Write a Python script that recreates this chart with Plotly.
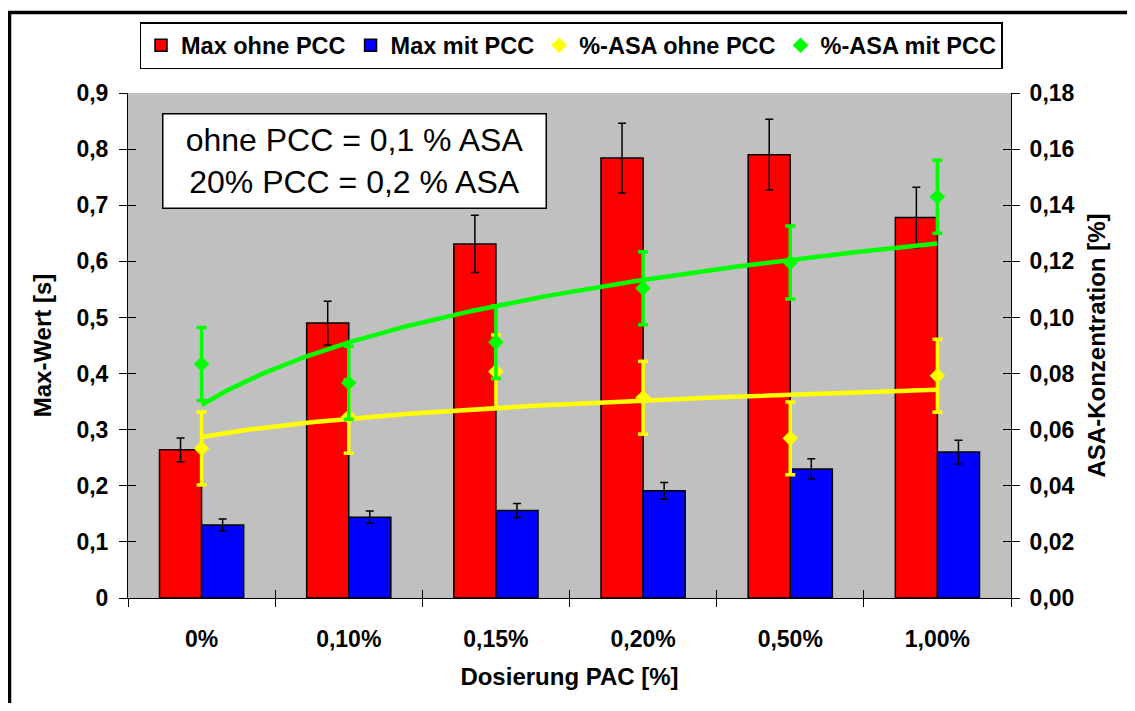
import numpy as np
import plotly.graph_objects as go

# ---------------- data ----------------
categories = ["0%", "0,10%", "0,15%", "0,20%", "0,50%", "1,00%"]

max_ohne = [0.264, 0.490, 0.631, 0.784, 0.790, 0.678]
max_ohne_err = [0.021, 0.039, 0.051, 0.062, 0.063, 0.054]
max_mit = [0.130, 0.144, 0.156, 0.191, 0.230, 0.260]
max_mit_err = [0.011, 0.011, 0.0125, 0.015, 0.018, 0.021]

asa_ohne = [0.0533, 0.0646, 0.0807, 0.0714, 0.0569, 0.0792]
asa_ohne_err = [0.013, 0.013, 0.013, 0.013, 0.013, 0.013]
asa_mit = [0.0834, 0.0767, 0.0912, 0.1104, 0.1196, 0.1430]
asa_mit_err = [0.013, 0.013, 0.013, 0.013, 0.013, 0.013]

y_left_ticks = [0, 0.1, 0.2, 0.3, 0.4, 0.5, 0.6, 0.7, 0.8, 0.9]
y_left_text = ["0", "0,1", "0,2", "0,3", "0,4", "0,5", "0,6", "0,7", "0,8", "0,9"]
y_right_ticks = [0, 0.02, 0.04, 0.06, 0.08, 0.10, 0.12, 0.14, 0.16, 0.18]
y_right_text = ["0,00", "0,02", "0,04", "0,06", "0,08", "0,10", "0,12", "0,14", "0,16", "0,18"]

note_text = "ohne PCC = 0,1 % ASA<br>20% PCC = 0,2 % ASA"

# ---------------- figure ----------------
# page body has an 8px default margin; the figure is sized so it fits the window
OFF = 8
W, H = 1135 - 2 * OFF, 711 - 2 * OFF
L, T = 128 - OFF, 93 - OFF
R = W - (1011 - OFF)
B = H - (598 - OFF)
PW, PH = W - L - R, H - T - B


def px_x(px):
    """window pixel -> paper x"""
    return (px - OFF - L) / PW


def px_y(py):
    """window pixel -> paper y"""
    return (H - B - (py - OFF)) / PH


idx = np.arange(len(categories))
FONT = "Liberation Sans, Arial, sans-serif"
bold = dict(family=FONT, size=23, color="black", weight="bold")
title_font = dict(family=FONT, size=24, color="black", weight="bold")

fig = go.Figure()

fig.add_trace(go.Bar(
    x=idx, y=max_ohne, name="Max ohne PCC", offsetgroup="a",
    marker=dict(color="#FF0000", line=dict(color="black", width=1.5)),
    error_y=dict(type="data", array=max_ohne_err, color="black", thickness=1.5, width=4),
))
fig.add_trace(go.Bar(
    x=idx, y=max_mit, name="Max mit PCC", offsetgroup="b",
    marker=dict(color="#0000FF", line=dict(color="black", width=1.5)),
    error_y=dict(type="data", array=max_mit_err, color="black", thickness=1.5, width=4),
))


# logarithmic trend lines (Excel-style fit y = a*ln(x) + b, x = 1..n)
def log_trend(vals):
    xs = idx + 1.0
    a, b = np.polyfit(np.log(xs), np.asarray(vals), 1)
    xx = np.linspace(1, len(vals), 200)
    return xx - 1, a * np.log(xx) + b


tx, ty = log_trend(asa_ohne)
fig.add_trace(go.Scatter(x=tx, y=ty, yaxis="y2", mode="lines",
                         line=dict(color="#FFFF00", width=4.5), showlegend=False,
                         hoverinfo="skip"))
tx, ty = log_trend(asa_mit)
fig.add_trace(go.Scatter(x=tx, y=ty, yaxis="y2", mode="lines",
                         line=dict(color="#00FF00", width=4.5), showlegend=False,
                         hoverinfo="skip"))

fig.add_trace(go.Scatter(
    x=idx, y=asa_ohne, yaxis="y2", mode="markers", name="%-ASA ohne PCC",
    marker=dict(symbol="diamond", size=12, color="#FFFF00"),
    error_y=dict(type="data", array=asa_ohne_err, color="#FFFF00", thickness=3.5, width=5),
))
fig.add_trace(go.Scatter(
    x=idx, y=asa_mit, yaxis="y2", mode="markers", name="%-ASA mit PCC",
    marker=dict(symbol="diamond", size=12, color="#00FF00"),
    error_y=dict(type="data", array=asa_mit_err, color="#00FF00", thickness=3.5, width=5),
))

# empty helper traces so the tick-only overlay axes get drawn
for xa, ya in (("x2", "y"), ("x", "y3"), ("x", "y4")):
    fig.add_trace(go.Scatter(x=[None], y=[None], xaxis=xa, yaxis=ya, mode="markers",
                             showlegend=False, hoverinfo="skip"))

boundaries = list(np.arange(len(categories) + 1) - 0.5)
x_range = [-0.5, len(categories) - 0.5]

fig.update_layout(
    width=W, height=H,
    margin=dict(l=L, r=R, t=T, b=B, autoexpand=False),
    paper_bgcolor="white",
    plot_bgcolor="#C0C0C0",
    barmode="group",
    bargap=0.428,
    bargroupgap=0,
    font=dict(family=FONT, color="black"),
    xaxis=dict(
        range=x_range,
        tickvals=list(idx), ticktext=categories, ticks="",
        tickfont=bold, ticklabelstandoff=20, automargin=False,
        showgrid=False, zeroline=False,
        showline=True, linecolor="black", linewidth=1,
        minor=dict(tickmode="array", tickvals=boundaries, ticks="outside",
                   ticklen=8, tickcolor="black", tickwidth=1, showgrid=False),
        title=dict(text="Dosierung PAC [%]", font=title_font, standoff=17),
    ),
    # inner halves of the crossing tick marks
    xaxis2=dict(
        range=x_range, overlaying="x", anchor="y", side="bottom",
        tickvals=boundaries, ticks="inside", ticklen=8, tickcolor="black",
        showticklabels=False, showgrid=False, zeroline=False, showline=False,
        automargin=False, fixedrange=True,
    ),
    yaxis=dict(
        range=[0, 0.9], tickvals=y_left_ticks, ticktext=y_left_text,
        ticks="outside", ticklen=8, tickcolor="black", automargin=False,
        tickfont=bold, ticklabelstandoff=6,
        showgrid=False, zeroline=False,
        showline=True, linecolor="black", linewidth=1,
        title=dict(text="Max-Wert [s]", font=title_font, standoff=18),
    ),
    yaxis2=dict(
        range=[0, 0.18], tickvals=y_right_ticks, ticktext=y_right_text,
        overlaying="y", side="right", anchor="x", automargin=False,
        ticks="outside", ticklen=8, tickcolor="black",
        tickfont=bold, ticklabelstandoff=5,
        showgrid=False, zeroline=False,
        showline=True, linecolor="black", linewidth=1,
        title=dict(text="ASA-Konzentration [%]", font=title_font, standoff=14),
    ),
    yaxis3=dict(
        range=[0, 0.9], tickvals=y_left_ticks, overlaying="y", side="left", anchor="x",
        ticks="inside", ticklen=8, tickcolor="black", showticklabels=False,
        showgrid=False, zeroline=False, showline=False, automargin=False,
    ),
    yaxis4=dict(
        range=[0, 0.18], tickvals=y_right_ticks, overlaying="y", side="right", anchor="x",
        ticks="inside", ticklen=8, tickcolor="black", showticklabels=False,
        showgrid=False, zeroline=False, showline=False, automargin=False,
    ),
    legend=dict(
        orientation="h", x=px_x(571), xanchor="center", y=px_y(22), yanchor="top",
        bgcolor="white", bordercolor="black", borderwidth=1.5,
        font=dict(family=FONT, size=23.5, color="black", weight="bold"),
        itemwidth=30, tracegroupgap=0,
    ),
    showlegend=True,
)

# note box
fig.add_annotation(
    xref="paper", yref="paper", x=px_x(162), y=px_y(113),
    xanchor="left", yanchor="top", showarrow=False,
    text=note_text, align="center",
    font=dict(family=FONT, size=32, color="black"),
    bgcolor="white", bordercolor="black", borderwidth=1.5,
    width=382, height=93, borderpad=0,
)

# outer chart border (left and top edges visible)
fig.add_shape(type="line", xref="paper", yref="paper",
              x0=px_x(9.5), x1=px_x(9.5), y0=px_y(12.5), y1=px_y(730),
              line=dict(color="black", width=3.5))
fig.add_shape(type="line", xref="paper", yref="paper",
              x0=px_x(8), x1=px_x(1150), y0=px_y(12.5), y1=px_y(12.5),
              line=dict(color="black", width=3.5))

fig.write_html("out.html")
